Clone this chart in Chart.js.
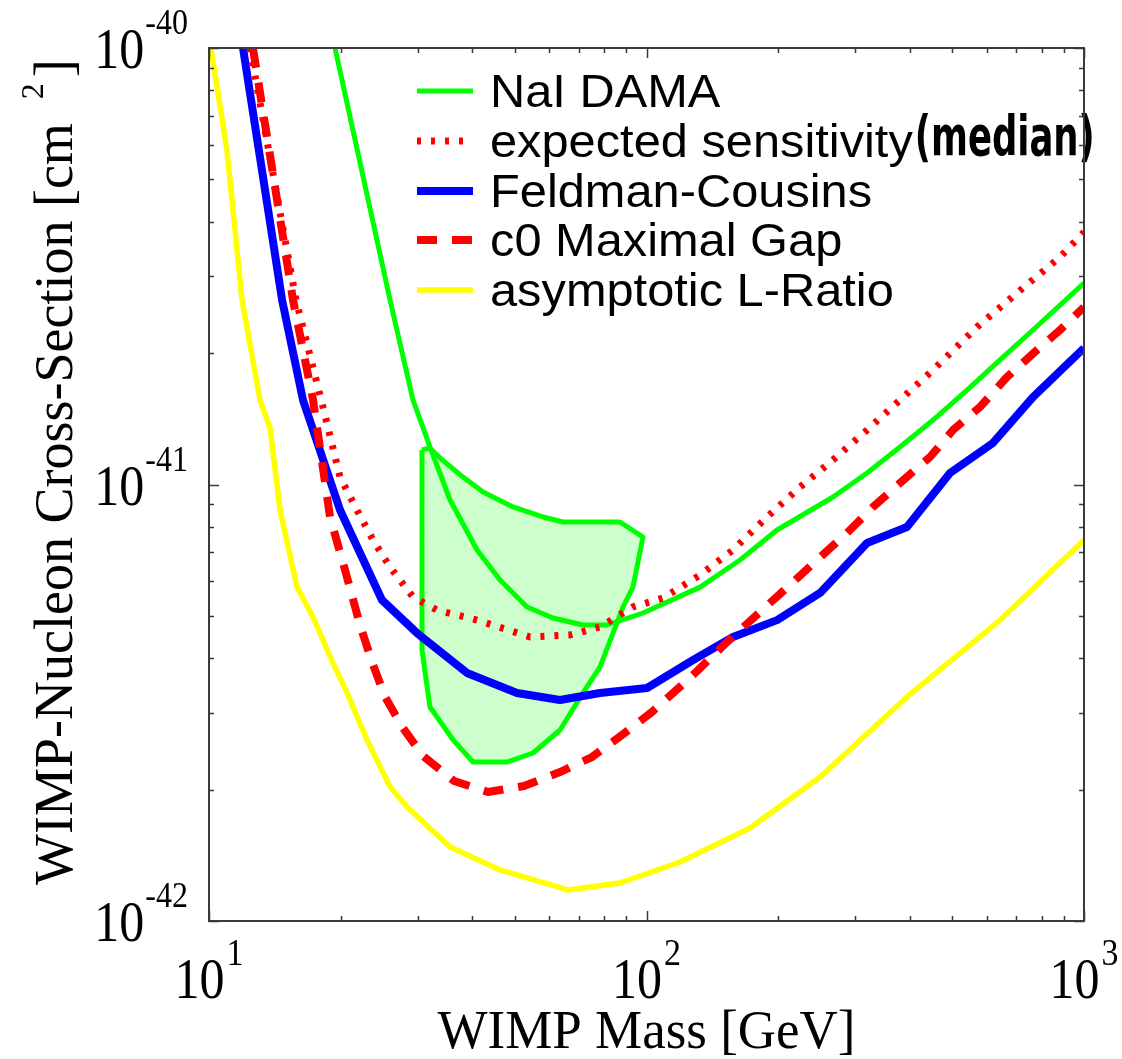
<!DOCTYPE html>
<html>
<head>
<meta charset="utf-8">
<script src="https://cdn.jsdelivr.net/npm/chart.js@4.4.1/dist/chart.umd.min.js"></script>
<style>
html,body{margin:0;padding:0;background:#ffffff;}
#wrap{width:1122px;height:1059px;position:relative;}
</style>
</head>
<body>
<div id="wrap"><canvas id="c" width="1122" height="1059"></canvas></div>
<script>
// ---------------- data ----------------
const damaRegionMass  = [30.68, 31.99, 33.73, 38.07, 42.30, 49.54, 58.0, 64.44, 86.98, 98.17, 93.13, 88.40, 78.27, 71.61, 63.44, 55.04, 47.98, 40.13, 36.13, 31.99, 30.68, 30.68];
const damaRegionSigma = [1.2e-41, 1.212e-41, 1.15e-41, 1.040e-41, 9.61e-42, 8.881e-42, 8.425e-42, 8.206e-42, 8.206e-42, 7.58e-42, 5.82e-42, 5.241e-42, 3.818e-42, 3.33e-42, 2.739e-42, 2.426e-42, 2.313e-42, 2.313e-42, 2.60e-42, 3.092e-42, 4.176e-42, 1.2e-41];

const damaMass  = [19.41, 25.93, 29.26, 31.99, 35.56, 40.99, 46.26, 53.33, 61.14, 71.61, 81.24, 98.17, 132.6, 163.6, 198.8, 266.9, 319.2, 379.7, 451.8, 540.3, 642.7, 764.4, 1000];
const damaSigma = [1e-40, 2.647e-41, 1.562e-41, 1.219e-41, 9.215e-42, 7.078e-42, 6.04e-42, 5.241e-42, 4.945e-42, 4.766e-42, 4.766e-42, 5.077e-42, 5.82e-42, 6.714e-42, 7.866e-42, 9.363e-42, 1.063e-41, 1.219e-41, 1.405e-41, 1.646e-41, 1.929e-41, 2.259e-41, 2.894e-41];

const expectedMass  = [12.41, 15.81, 18.22, 19.93, 21.79, 23.71, 25.93, 29.26, 33.19, 40.99, 54.17, 66.88, 78.27, 93.13, 109.1, 132.6, 157.6, 188.6, 224.4, 266.9, 319.2, 379.7, 451.8, 569.4, 703.0, 881.4, 1000];
const expectedSigma = [1e-40, 2.647e-41, 1.505e-41, 1.040e-41, 8.74e-42, 7.46e-42, 6.471e-42, 5.524e-42, 5.158e-42, 4.89e-42, 4.473e-42, 4.521e-42, 4.716e-42, 5.241e-42, 5.495e-42, 6.204e-42, 7.078e-42, 8.425e-42, 9.87e-42, 1.138e-41, 1.333e-41, 1.562e-41, 1.829e-41, 2.295e-41, 2.746e-41, 3.32e-41, 3.787e-41];

const fcMass  = [11.96, 14.69, 16.40, 19.93, 24.85, 29.88, 38.88, 50.58, 63.44, 78.27, 100.3, 127.8, 157.6, 198.8, 249.3, 319.2, 393.9, 494.0, 619.4, 764.4, 1000];
const fcSigma = [1e-40, 2.647e-41, 1.562e-41, 8.74e-42, 5.437e-42, 4.568e-42, 3.70e-42, 3.33e-42, 3.208e-42, 3.33e-42, 3.418e-42, 3.962e-42, 4.473e-42, 4.89e-42, 5.643e-42, 7.345e-42, 7.99e-42, 1.063e-41, 1.245e-41, 1.586e-41, 2.054e-41];

const gapMass  = [12.60, 15.56, 17.29, 18.91, 20.46, 22.14, 23.59, 25.26, 27.76, 30.84, 36.31, 43.42, 52.48, 63.44, 75.06, 87.90, 102.9, 120.5, 130.5, 152.8, 181.7, 212.8, 245.3, 287.3, 329.4, 379.7, 444.6, 501.9, 578.4, 666.8, 780.8, 881.4, 1000];
const gapSigma = [1e-40, 2.647e-41, 1.562e-41, 8.425e-42, 6.37e-42, 4.766e-42, 3.921e-42, 3.26e-42, 2.768e-42, 2.388e-42, 2.093e-42, 1.975e-42, 2.038e-42, 2.194e-42, 2.375e-42, 2.668e-42, 3.012e-42, 3.473e-42, 3.737e-42, 4.358e-42, 5.104e-42, 5.887e-42, 6.714e-42, 7.742e-42, 8.881e-42, 1.008e-41, 1.156e-41, 1.333e-41, 1.505e-41, 1.763e-41, 2.033e-41, 2.259e-41, 2.55e-41];

const lratioMass  = [10.1, 10.99, 11.9, 13.08, 13.79, 14.53, 15.89, 17.29, 19.2, 20.68, 22.97, 25.93, 28.36, 35.56, 46.26, 66.16, 86.98, 119.3, 172.4, 249.3, 393.9, 642.7, 1000];
const lratioSigma = [1.0e-40, 5.84e-41, 2.647e-41, 1.562e-41, 1.347e-41, 8.74e-42, 5.82e-42, 4.97e-42, 3.90e-42, 3.33e-42, 2.60e-42, 2.03e-42, 1.825e-42, 1.477e-42, 1.309e-42, 1.178e-42, 1.222e-42, 1.365e-42, 1.633e-42, 2.137e-42, 3.26e-42, 4.89e-42, 7.46e-42];

const legendLabels = ['NaI DAMA', 'expected sensitivity', 'Feldman-Cousins', 'c0 Maximal Gap', 'asymptotic L-Ratio'];
const legendSuffix = '(median)';

const xTickValues = [10, 100, 1000];
const xTickExponents = ['1', '2', '3'];
const yTickValues = [1e-40, 1e-41, 1e-42];
const yTickExponents = ['-40', '-41', '-42'];

const xTitle = 'WIMP Mass [GeV]';
const yTitleMain = 'WIMP-Nucleon Cross-Section [cm';
const yTitleSup = '2';
const yTitleEnd = ']';

// ---------------- helpers ----------------
const SERIF = '"Liberation Serif","Times New Roman",Times,serif';
const SANS = '"Liberation Sans",Arial,Helvetica,sans-serif';
const NARROW = '"Liberation Sans Narrow","Arial Narrow","DejaVu Sans Condensed","Liberation Sans",sans-serif';
const zip = (xs, ys) => xs.map((x, i) => ({x: x, y: ys[i]}));

const datasets = [
  {label: 'NaI DAMA region', data: zip(damaRegionMass, damaRegionSigma), borderColor: '#00ff00', backgroundColor: '#ccffcc', borderWidth: 5, fill: 'shape', order: 6},
  {label: legendLabels[4], data: zip(lratioMass, lratioSigma), borderColor: '#ffff00', borderWidth: 5.5, order: 5},
  {label: legendLabels[0], data: zip(damaMass, damaSigma), borderColor: '#00ff00', borderWidth: 5, order: 4},
  {label: legendLabels[2], data: zip(fcMass, fcSigma), borderColor: '#0000ff', borderWidth: 8, order: 3},
  {label: legendLabels[3], data: zip(gapMass, gapSigma), borderColor: '#ff0000', borderWidth: 8, borderDash: [20, 15], order: 2},
  {label: legendLabels[1], data: zip(expectedMass, expectedSigma), borderColor: '#ff0000', borderWidth: 7, borderDash: [4, 10], order: 1}
].map(d => Object.assign({showLine: true, pointRadius: 0, pointHoverRadius: 0, tension: 0, fill: false, clip: 0, borderCapStyle: 'butt', borderJoinStyle: 'round'}, d));

const legendRowsY = [91, 141, 191, 240, 290];

function drawScaled(ctx, text, x, y, sx, sy) {
  ctx.save();
  ctx.translate(x, y);
  ctx.scale(sx, sy);
  ctx.fillText(text, 0, 0);
  ctx.restore();
}

const decorPlugin = {
  id: 'decor',
  afterDraw(chart) {
    const ctx = chart.ctx;
    const a = chart.chartArea;
    const xs = chart.scales.x, ys = chart.scales.y;

    // ---- legend ----
    ctx.save();
    legendLabels.forEach((lab, i) => {
      const ds = chart.data.datasets.find(d => d.label === lab);
      const y = legendRowsY[i];
      ctx.save();
      ctx.strokeStyle = ds.borderColor;
      ctx.lineWidth = ds.borderWidth;
      ctx.lineCap = 'butt';
      ctx.setLineDash(ds.borderDash || []);
      ctx.beginPath();
      ctx.moveTo(417, y);
      ctx.lineTo(473, y);
      ctx.stroke();
      ctx.restore();
      ctx.fillStyle = '#000';
      ctx.font = '46px ' + SANS;
      ctx.textAlign = 'left';
      ctx.textBaseline = 'alphabetic';
      const sx = 1.06;
      drawScaled(ctx, lab, 490, y + 16, sx, 1);
      if (i === 1) {
        const w = ctx.measureText(lab).width * sx;
        ctx.font = 'bold 56px ' + NARROW;
        const mw = ctx.measureText(legendSuffix).width;
        const target = 180;
        drawScaled(ctx, legendSuffix, 490 + w + 2, y + 14, target / mw, 1);
      }
    });
    ctx.restore();

    // ---- frame and inward ticks ----
    ctx.save();
    ctx.strokeStyle = '#3a3a3a';
    ctx.lineWidth = 1.5;
    ctx.beginPath();
    const xVals = [];
    [10, 100].forEach(dec => { for (let k = 1; k <= 9; k++) xVals.push([k * dec, k === 1]); });
    xVals.push([1000, true]);
    xVals.forEach(([v, major]) => {
      const px = Math.round(xs.getPixelForValue(v)) + 0.5;
      const len = major ? 10 : 5;
      ctx.moveTo(px, a.bottom); ctx.lineTo(px, a.bottom - len);
      ctx.moveTo(px, a.top); ctx.lineTo(px, a.top + len);
    });
    const yVals = [];
    [1e-42, 1e-41].forEach(dec => { for (let k = 1; k <= 9; k++) yVals.push([k * dec, k === 1]); });
    yVals.push([1e-40, true]);
    yVals.forEach(([v, major]) => {
      const py = Math.round(ys.getPixelForValue(v)) + 0.5;
      const len = major ? 10 : 5;
      ctx.moveTo(a.left, py); ctx.lineTo(a.left + len, py);
      ctx.moveTo(a.right, py); ctx.lineTo(a.right - len, py);
    });
    ctx.stroke();
    ctx.lineWidth = 2;
    ctx.strokeRect(a.left, a.top, a.right - a.left, a.bottom - a.top);
    ctx.restore();

    // ---- tick labels ----
    ctx.save();
    ctx.fillStyle = '#000';
    ctx.textBaseline = 'alphabetic';
    ctx.textAlign = 'left';
    const SY = 1.12;
    yTickValues.forEach((v, i) => {
      const py = ys.getPixelForValue(v);
      ctx.font = '32px ' + SERIF;
      const we = ctx.measureText(yTickExponents[i]).width;
      const ex = a.left - 21 - we;
      drawScaled(ctx, yTickExponents[i], ex, py - 14, 1, SY);
      ctx.font = '50px ' + SERIF;
      const wb = ctx.measureText('10').width;
      drawScaled(ctx, '10', ex - 1 - wb, py + 20, 1, SY);
    });
    xTickValues.forEach((v, i) => {
      const px = xs.getPixelForValue(v);
      ctx.font = '50px ' + SERIF;
      const wb = ctx.measureText('10').width;
      ctx.font = '34px ' + SERIF;
      const we = ctx.measureText(xTickExponents[i]).width;
      const x0 = px - (wb + 2 + we) / 2;
      ctx.font = '50px ' + SERIF;
      drawScaled(ctx, '10', x0, a.bottom + 77, 1, SY);
      ctx.font = '34px ' + SERIF;
      drawScaled(ctx, xTickExponents[i], x0 + wb + 2, a.bottom + 44, 1, SY);
    });
    ctx.restore();

    // ---- axis titles ----
    ctx.save();
    ctx.fillStyle = '#000';
    ctx.font = '53px ' + SERIF;
    ctx.textAlign = 'center';
    ctx.textBaseline = 'alphabetic';
    drawScaled(ctx, xTitle, (a.left + a.right) / 2, 1048, 1, 1.03);
    ctx.restore();

    ctx.save();
    ctx.fillStyle = '#000';
    ctx.textAlign = 'left';
    ctx.textBaseline = 'alphabetic';
    ctx.translate(72, 885);
    ctx.rotate(-Math.PI / 2);
    ctx.font = '54px ' + SERIF;
    const w1 = ctx.measureText(yTitleMain).width;
    ctx.fillText(yTitleMain, 0, 0);
    ctx.font = '32px ' + SERIF;
    const w2 = ctx.measureText(yTitleSup).width;
    ctx.fillText(yTitleSup, w1 + 24, -29);
    ctx.font = '54px ' + SERIF;
    ctx.fillText(yTitleEnd, w1 + 24 + w2 + 6, 0);
    ctx.restore();
  }
};

new Chart(document.getElementById('c'), {
  type: 'scatter',
  data: {datasets: datasets},
  options: {
    responsive: false,
    animation: false,
    devicePixelRatio: 1,
    layout: {padding: {top: 48, right: 38, bottom: 0, left: 0}},
    plugins: {legend: {display: false}, tooltip: {enabled: false}},
    events: [],
    scales: {
      x: {
        type: 'logarithmic', min: 10, max: 1000,
        grid: {display: false, drawTicks: false},
        border: {display: false},
        ticks: {display: false},
        afterFit: s => { s.height = 138; }
      },
      y: {
        type: 'logarithmic', min: 1e-42, max: 1e-40,
        grid: {display: false, drawTicks: false},
        border: {display: false},
        ticks: {display: false},
        afterFit: s => { s.width = 209; }
      }
    }
  },
  plugins: [decorPlugin]
});
</script>
</body>
</html>
